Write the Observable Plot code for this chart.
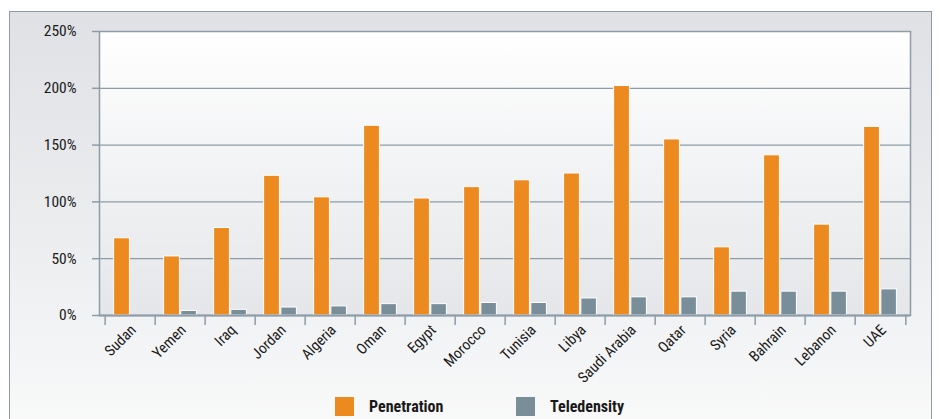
<!DOCTYPE html>
<html>
<head>
<meta charset="utf-8">
<script src="https://cdn.jsdelivr.net/npm/d3@7"></script>
<script src="https://cdn.jsdelivr.net/npm/@observablehq/plot@0.6"></script>
<style>
  html, body { margin: 0; padding: 0; background: #ffffff; width: 940px; height: 419px; overflow: hidden; }
  body { position: relative; font-family: "Liberation Sans Narrow", "Roboto Condensed", "Open Sans", sans-serif; }
  #panel {
    position: absolute; left: 9px; top: 11px; width: 921px; height: 440px;
    border: 1px solid #8e9ca7; border-bottom: none;
    background: linear-gradient(to bottom, #dfe1e4 0%, #eceef0 55%, #fbfbfb 100%);
  }
  #chart { position: absolute; left: 0; top: 0; }
  #legend { position: absolute; top: 397px; left: 0; width: 940px; height: 20px; }
  .item { position: absolute; top: 0; display: flex; align-items: center; }
  .swatch { width: 19px; height: 19px; margin-right: 15px; }
  .label { font-weight: bold; font-size: 16px; color: #1a1a1a; }
</style>
</head>
<body>
<div id="panel"></div>
<div id="chart"></div>
<div id="legend"></div>
<script>
// Mobile penetration vs. fixed-line teledensity by country (%)
const countries = ["Sudan", "Yemen", "Iraq", "Jordan", "Algeria", "Oman", "Egypt", "Morocco",
  "Tunisia", "Libya", "Saudi Arabia", "Qatar", "Syria", "Bahrain", "Lebanon", "UAE"];
const penetration = [68, 52, 77, 123, 104, 167, 103, 113, 119, 125, 202, 155, 60, 141, 80, 166];
const teledensity = [0, 4, 5, 7, 8, 10, 10, 11, 11, 15, 16, 16, 21, 21, 21, 23];
const seriesNames = ["Penetration", "Teledensity"];
const seriesColors = ["#ec8a20", "#7a8e9a"];
const yTicks = [0, 50, 100, 150, 200, 250];

const rows = [];
countries.forEach((c, i) => {
  rows.push({country: c, series: seriesNames[0], value: penetration[i]});
  rows.push({country: c, series: seriesNames[1], value: teledensity[i]});
});

const width = 940, height = 385;
const marginLeft = 99, marginRight = 30, marginTop = 31, marginBottom = 70;
const step = (width - marginLeft - marginRight) / countries.length;
const gridColor = "#8d9ca7";
const font = "\"Liberation Sans Narrow\", \"Roboto Condensed\", \"Open Sans\", sans-serif";

const svg = Plot.plot({
  width, height, marginLeft, marginRight, marginTop, marginBottom,
  style: {background: "transparent", fontFamily: font, color: "#1a1a1a", overflow: "visible"},
  x: {domain: countries, padding: 0, axis: null, label: null},
  y: {domain: [0, 250], axis: null, label: null},
  color: {domain: seriesNames, range: seriesColors},
  marks: [
    Plot.frame({fill: "url(#plotBg)", stroke: gridColor, strokeWidth: 1.5}),
    Plot.gridY(yTicks.slice(1, -1), {stroke: gridColor, strokeOpacity: 1, strokeWidth: 1.3}),
    Plot.barY(rows.filter(d => d.series === seriesNames[0]), {
      x: "country", y: "value", fill: seriesColors[0], stroke: "#ffffff", strokeWidth: 1,
      insetLeft: step * 0.17, insetRight: step * 0.505
    }),
    Plot.barY(rows.filter(d => d.series === seriesNames[1]), {
      x: "country", y: "value", fill: seriesColors[1], stroke: "#ffffff", strokeWidth: 1,
      insetLeft: step * 0.51, insetRight: step * 0.17
    }),
    Plot.ruleY([0], {stroke: gridColor, strokeWidth: 1.8}),
    Plot.axisY({ticks: yTicks, tickSize: 7, tickPadding: 16, tickFormat: d => d + "%", label: null,
      stroke: gridColor, strokeWidth: 1.5, fontSize: 15.5, fill: "#1a1a1a"}),
    // tick marks on the category boundaries
    Plot.axisX({tickSize: 10, tickFormat: () => "", dx: -step / 2, label: null, stroke: gridColor, strokeWidth: 1.5}),
    Plot.axisX({ticks: countries.slice(-1), tickSize: 10, tickFormat: () => "", dx: step / 2, label: null, stroke: gridColor, strokeWidth: 1.5}),
    Plot.axisX({tickSize: 0, tickPadding: 12, tickRotate: -45, dx: 3, label: null, fontSize: 15, fill: "#1a1a1a"})
  ]
});

// vertical gradient for the plot-area background
const defs = document.createElementNS("http://www.w3.org/2000/svg", "defs");
defs.innerHTML = `<linearGradient id="plotBg" x1="0" y1="0" x2="0" y2="1">
  <stop offset="0" stop-color="#ffffff"/><stop offset="1" stop-color="#e4e6e9"/></linearGradient>`;
svg.insertBefore(defs, svg.firstChild);
document.getElementById("chart").appendChild(svg);

// legend
const legend = document.getElementById("legend");
const legendX = [335, 516];
seriesNames.forEach((name, i) => {
  const item = document.createElement("div");
  item.className = "item";
  item.style.left = legendX[i] + "px";
  item.innerHTML = `<div class="swatch" style="background:${seriesColors[i]}"></div><span class="label">${name}</span>`;
  legend.appendChild(item);
});
</script>
</body>
</html>
